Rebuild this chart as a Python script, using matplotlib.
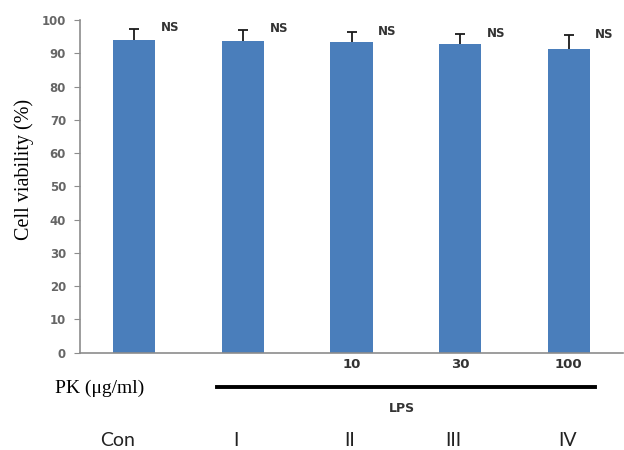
import matplotlib
matplotlib.use("Agg")
import matplotlib.pyplot as plt
from matplotlib.lines import Line2D

# data
groups = ["Con", "I", "II", "III", "IV"]
dose_labels = ["", "", "10", "30", "100"]
viability = [94.0, 93.6, 93.3, 92.7, 91.4]
errors = [3.3, 3.4, 3.0, 3.0, 4.0]
sig = ["NS", "NS", "NS", "NS", "NS"]

bar_color = "#4a7ebb"
grey = "#8c8c8c"

fig = plt.figure(figsize=(6.24, 4.5), dpi=100)
ax = fig.add_axes([80/624, 1 - 352.7/450, 543/624, (352.7 - 20)/450])

x = list(range(len(groups)))
ax.bar(x, viability, width=0.39, color=bar_color, zorder=2)
eb = ax.errorbar(x, viability, yerr=[[0]*len(errors), errors], fmt="none",
                 ecolor="#1a1a1a", elinewidth=1.3, capsize=3.5, capthick=1.3, zorder=3)
# only the upper cap is drawn in the original
for cap in eb[1]:
    if list(cap.get_ydata()) == viability:
        cap.set_visible(False)

for xi, v, e, s in zip(x, viability, errors, sig):
    ax.text(xi + 0.33, v + e + 0.3, s, ha="center", va="center",
            fontsize=8.5, fontweight="bold", color="#333333")

ax.set_xlim(-0.5, 4.5)
ax.set_ylim(0, 100)
ax.set_yticks(range(0, 101, 10))
ax.set_xticks(x)
ax.set_xticklabels(dose_labels, fontsize=9.5, fontweight="bold", color="#333333")
ax.tick_params(axis="x", length=0, pad=4)
ax.tick_params(axis="y", direction="out", length=4, color=grey,
               labelsize=8.5, labelcolor="#666666", pad=6)
for lab in ax.get_yticklabels():
    lab.set_fontweight("bold")

for side in ["top", "right"]:
    ax.spines[side].set_visible(False)
for side in ["left", "bottom"]:
    ax.spines[side].set_color(grey)
    ax.spines[side].set_linewidth(1.2)

ax.set_ylabel("Cell viability (%)", family="Liberation Serif", fontsize=14.5)
ax.yaxis.set_label_coords(-0.085, 0.55)

# treatment annotations below the axis
fig.text(100/624, 1 - 388/450, "PK (\u03bcg/ml)", family="Liberation Serif",
         fontsize=14, ha="center", va="center")
fig.add_artist(Line2D([217/624, 595/624], [1 - 387/450, 1 - 387/450],
                      color="black", linewidth=2.8))
fig.text(402/624, 1 - 408/450, "LPS", fontsize=9, fontweight="bold",
         color="#333333", ha="center", va="center")

group_x = [118, 236, 350, 453, 568]
for gx, g in zip(group_x, groups):
    fig.text(gx/624, 1 - 441/450, g, family="Lato", fontsize=14,
             color="#222222", ha="center", va="center")

fig.savefig("out.png", dpi=100)
